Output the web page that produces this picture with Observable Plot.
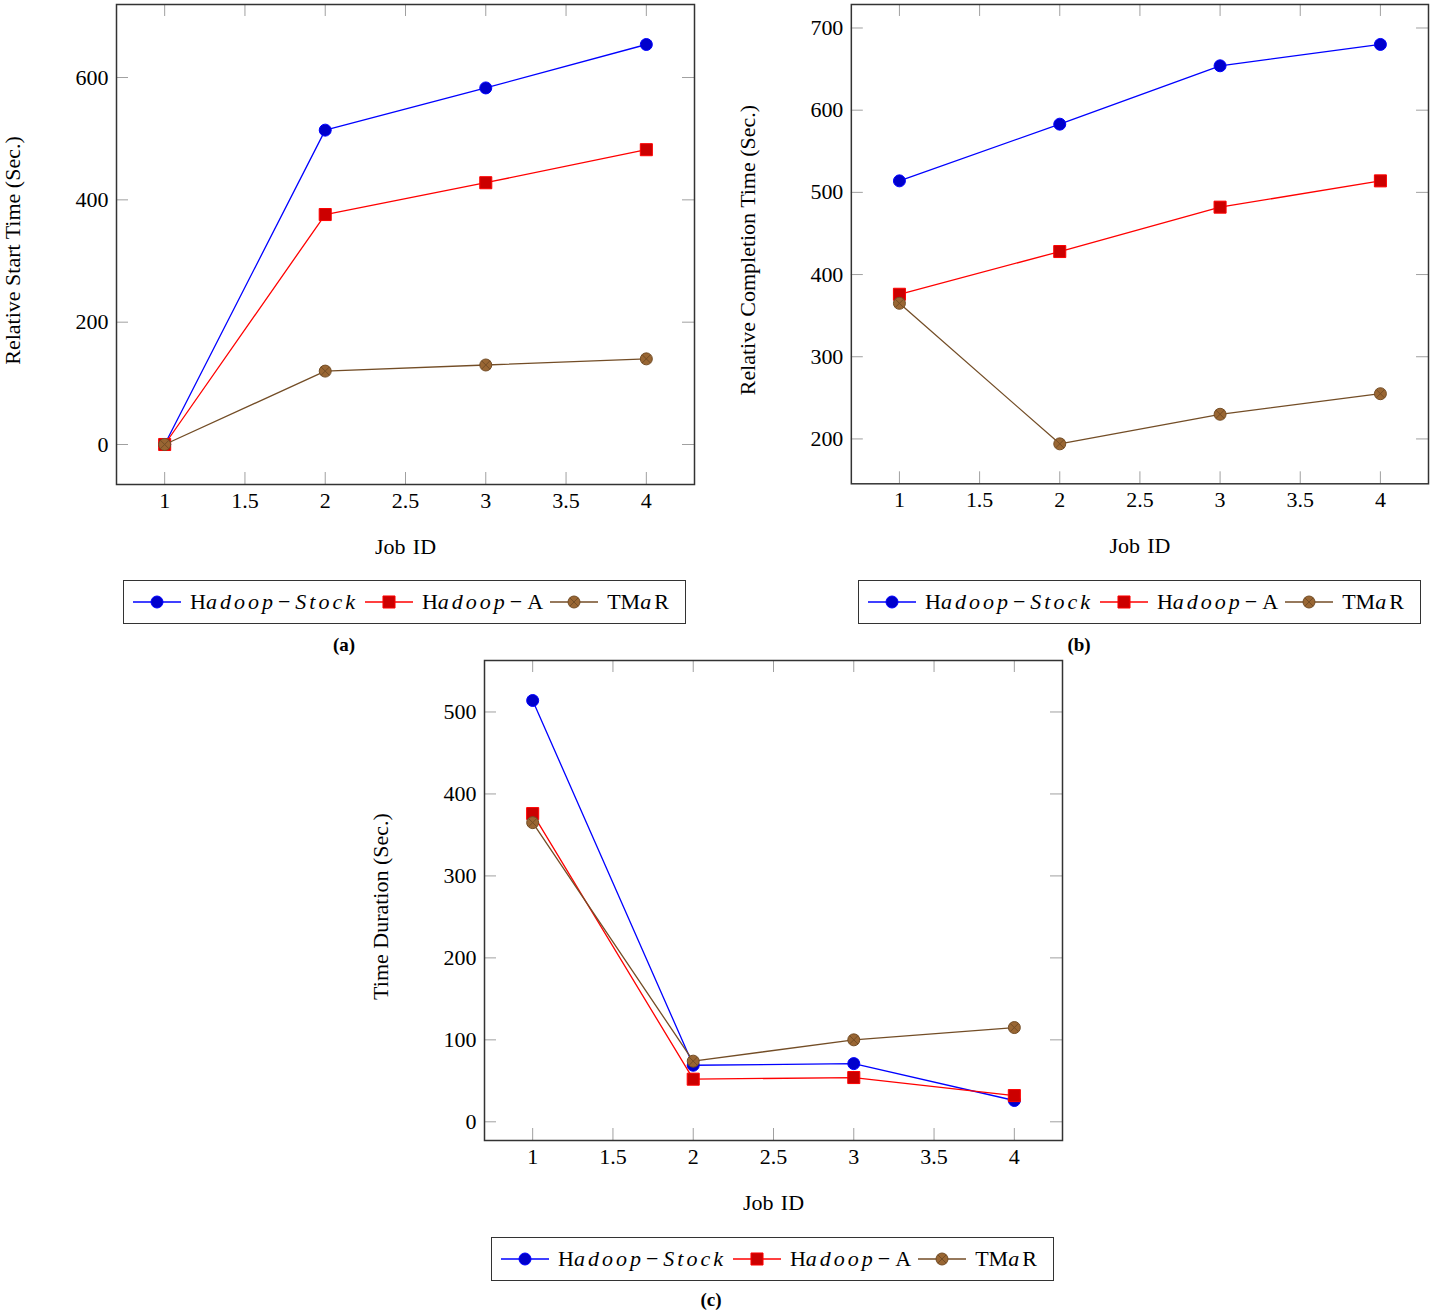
<!DOCTYPE html>
<html><head><meta charset="utf-8">
<script src="https://cdn.jsdelivr.net/npm/d3@7"></script>
<script src="https://cdn.jsdelivr.net/npm/@observablehq/plot@0.6"></script>
<style>
body{margin:0;background:#fff;overflow:hidden}
#root{position:relative;width:1431px;height:1312px;font-family:"Liberation Serif",serif;color:#000}
.panel{position:absolute}
.panel svg text{font-family:"Liberation Serif",serif}
.legend{position:absolute;border:1.5px solid #333;box-sizing:border-box;width:563px;height:44px;display:flex;align-items:center;padding-left:9px;font-size:22px;white-space:nowrap;background:#fff}
.legend svg{display:block;flex:none}
.lg-text{margin:0 7px 0 9px}
.m{font-style:italic;letter-spacing:3px}
.op{margin:0 5px 0 2px}
.caption{position:absolute;font-weight:bold;font-size:19px;transform:translateX(-50%);line-height:22px}
</style></head><body><div id="root"></div>
<script>
// ---- data ----
const jobs = [1, 2, 3, 4];
const xTicks = [1, 1.5, 2, 2.5, 3, 3.5, 4];
const seriesNames = ["Hadoop-Stock", "Hadoop-A", "TMaR"];

const startStock = [0, 514, 583, 654];
const startA     = [0, 376, 428, 482];
const startTMaR  = [0, 120, 130, 140];

const complStock = [514, 583, 654, 680];
const complA     = [376, 428, 482, 514];
const complTMaR  = [365, 194, 230, 255];

const durStock = [514, 69, 71, 26];
const durA     = [376, 52, 54, 32];
const durTMaR  = [365, 74, 100, 115];

const yTicksA = [0, 200, 400, 600];
const yTicksB = [200, 300, 400, 500, 600, 700];
const yTicksC = [0, 100, 200, 300, 400, 500];

const xLabel = "Job\u2004ID";
const yLabelA = "Relative Start Time (Sec.)";
const yLabelB = "Relative Completion Time (Sec.)";
const yLabelC = "Time Duration (Sec.)";

// ---- styles ----
const FONT = "Liberation Serif";
const otimes = {
  draw(ctx, size) {
    const r = Math.sqrt(size / Math.PI);
    ctx.moveTo(r, 0);
    ctx.arc(0, 0, r, 0, 2 * Math.PI);
    const d = r * Math.SQRT1_2;
    ctx.moveTo(-d, -d); ctx.lineTo(d, d);
    ctx.moveTo(-d, d); ctx.lineTo(d, -d);
  }
};
const styles = [
  {line: "#0000ff", fill: "#0000cc", symbol: "circle", r: 6},
  {line: "#ff0000", fill: "#cc0000", symbol: "square", r: 6.8},
  {line: "#734d26", fill: "#996633", symbol: otimes, r: 6}
];

const root = document.getElementById("root");
const fmt = d => String(d);

function makePanel({left, top, width, yLabel, values, yTicks}) {
  const marginLeft = 116, marginTop = 4, frameH = 480;
  const height = 90 + frameH + marginTop;
  const marginBottom = height - marginTop - frameH;
  const marginRight = width - marginLeft - 578;
  const frameW = width - marginLeft - marginRight;
  const all = values.flat();
  const [lo, hi] = d3.extent(all);
  const pad = (hi - lo) * 0.1;
  const [xl, xh] = d3.extent(jobs);
  const xpad = (xh - xl) * 0.1;
  const tickColor = "#a0a0a0";
  const marks = [
    Plot.tickX(xTicks, {x: d => d, stroke: tickColor, insetTop: frameH - 12}),
    Plot.tickX(xTicks, {x: d => d, stroke: tickColor, insetBottom: frameH - 12}),
    Plot.tickY(yTicks, {y: d => d, stroke: tickColor, insetRight: frameW - 12}),
    Plot.tickY(yTicks, {y: d => d, stroke: tickColor, insetLeft: frameW - 12}),
    Plot.axisX({ticks: xTicks, tickFormat: fmt, tickSize: 0, tickPadding: 8, label: null, fontFamily: FONT, fontSize: 22}),
    Plot.axisY({ticks: yTicks, tickFormat: fmt, tickSize: 0, tickPadding: 8, label: null, fontFamily: FONT, fontSize: 22}),
    Plot.text([xLabel], {text: d => d, frameAnchor: "bottom", dy: 62, lineAnchor: "middle", textAnchor: "middle", fontFamily: FONT, fontSize: 22}),
    Plot.text([yLabel], {text: d => d, frameAnchor: "left", dx: -104, dy: 6, rotate: -90, textAnchor: "middle", lineAnchor: "middle", fontFamily: FONT, fontSize: 22})
  ];
  values.forEach((vals, k) => {
    const s = styles[k];
    const data = jobs.map((j, i) => ({job: j, value: vals[i], series: seriesNames[k]}));
    marks.push(Plot.line(data, {x: "job", y: "value", stroke: s.line, strokeWidth: 1.3}));
    marks.push(Plot.dot(data, {x: "job", y: "value", symbol: s.symbol, r: s.r, fill: s.fill, stroke: s.line, strokeWidth: 1}));
  });
  marks.push(Plot.frame({stroke: "#333", strokeWidth: 1.5}));
  const chart = Plot.plot({
    width, height, marginLeft, marginRight, marginTop, marginBottom,
    x: {domain: [xl - xpad, xh + xpad]},
    y: {domain: [lo - pad, hi + pad]},
    style: {fontFamily: FONT, fontSize: "22px", background: "transparent", color: "#000", overflow: "visible"},
    marks
  });
  const wrap = document.createElement("div");
  wrap.className = "panel";
  wrap.style.left = left + "px";
  wrap.style.top = top + "px";
  wrap.appendChild(chart);
  root.appendChild(wrap);
}

function swatch(k) {
  const s = styles[k];
  const svg = d3.create("svg").attr("width", 48).attr("height", 20);
  svg.append("line").attr("x1", 0).attr("x2", 48).attr("y1", 10).attr("y2", 10).attr("stroke", s.line).attr("stroke-width", 1.3);
  const type = typeof s.symbol === "string" ? (s.symbol === "circle" ? d3.symbolCircle : d3.symbolSquare) : s.symbol;
  const sym = d3.symbol().type(type).size(s.r * s.r * Math.PI);
  svg.append("path").attr("transform", "translate(24,10)").attr("d", sym()).attr("fill", s.fill).attr("stroke", s.line).attr("stroke-width", 1);
  return svg.node();
}

const legendLabels = [
  '<span>H</span><span class="m">adoop</span><span class="op">\u2212</span><span class="m">Stock</span>',
  '<span>H</span><span class="m">adoop</span><span class="op">\u2212</span><span>A</span>',
  '<span>TM</span><span class="m">a</span><span>R</span>'
];

function makeLegend(left, top) {
  const lg = document.createElement("div");
  lg.className = "legend";
  lg.style.left = left + "px";
  lg.style.top = top + "px";
  seriesNames.forEach((name, k) => {
    lg.appendChild(swatch(k));
    const t = document.createElement("span");
    t.className = "lg-text";
    t.innerHTML = legendLabels[k];
    lg.appendChild(t);
  });
  root.appendChild(lg);
}

function makeCaption(text, cx, top) {
  const c = document.createElement("div");
  c.className = "caption";
  c.style.left = cx + "px";
  c.style.top = top + "px";
  c.textContent = text;
  root.appendChild(c);
}

makePanel({left: 0, top: 0, width: 700, yLabel: yLabelA, values: [startStock, startA, startTMaR], yTicks: yTicksA});
makePanel({left: 735, top: 0, width: 697, yLabel: yLabelB, values: [complStock, complA, complTMaR], yTicks: yTicksB});
makePanel({left: 368, top: 656, width: 700, yLabel: yLabelC, values: [durStock, durA, durTMaR], yTicks: yTicksC});

makeLegend(123, 580);
makeLegend(858, 580);
makeLegend(491, 1237);

makeCaption("(a)", 344, 634);
makeCaption("(b)", 1079, 634);
makeCaption("(c)", 711, 1289);
</script>
</body></html>
